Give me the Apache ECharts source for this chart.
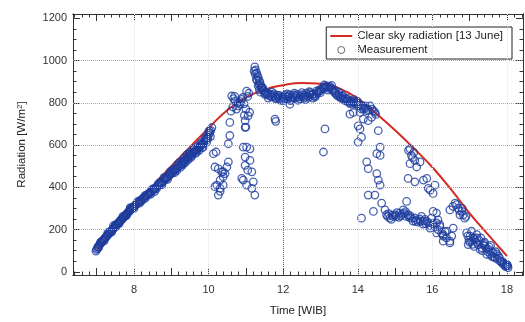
<!DOCTYPE html>
<html>
<head>
<meta charset="utf-8">
<script src="https://cdn.jsdelivr.net/npm/echarts@6/dist/echarts.min.js"></script>
<style>
  html, body { margin: 0; padding: 0; background: #fff; }
  #chart { width: 525px; height: 322px; }
</style>
</head>
<body>
<div id="chart"></div>
<script>
// axis ranges and tick labels
const xLabels = [8, 10, 12, 14, 16, 18];
const yLabels = [0, 200, 400, 600, 800, 1000, 1200];
const xGrid = [8, 10, 14, 16, 18];
const yGrid = [200, 400, 600, 800, 1000];

// clear sky curve (13 June)
const clearSkyTime = [7.0, 7.5, 8.0, 8.5, 9.0, 9.5, 10.0, 10.5, 11.0, 11.5, 12.0, 12.5, 13.0, 13.5, 14.0, 14.5, 15.0, 15.5, 16.0, 16.5, 17.0, 17.5, 18.0];
const clearSkyValue = [105, 205, 305, 405, 500, 590, 680, 765, 825, 862, 883, 893, 890, 868, 820, 748, 670, 585, 495, 390, 277, 175, 75];

const sunriseBand = [
  [6.98,98],[7.00,106],[7.02,110],[7.03,118],[7.05,121],[7.07,127],[7.09,130],[7.11,137],[7.13,139],[7.15,146],
  [7.17,147],[7.19,153],[7.21,157],[7.23,162],[7.25,164],[7.27,171],[7.29,172],[7.31,179],[7.33,181],[7.35,187],
  [7.37,189],[7.39,195],[7.41,196],[7.43,202],[7.45,205],[7.47,210],[7.49,211],[7.51,218],[7.53,219],[7.55,226],
  [7.57,228],[7.59,234],[7.61,235],[7.63,242],[7.65,243],[7.67,250],[7.69,251],[7.71,257],[7.73,259],[7.75,264],
  [7.77,267],[7.79,272],[7.81,274],[7.83,280],[7.85,281],[7.87,288],[7.89,289],[7.91,296],[7.93,296],[7.95,303],
  [7.97,304],[7.99,309],[8.02,312],[8.05,319],[8.08,321],[8.11,329],[8.14,331],[8.17,338],[8.20,340],[8.23,347],
  [8.26,349],[8.29,356],[8.32,357],[8.35,365],[8.38,367],[8.41,373],[8.44,377],[8.47,382],[8.50,385],[8.53,391],
  [8.56,395],[8.59,399],[8.62,403],[8.65,409],[8.68,411],[8.71,419],[8.74,420],[8.77,428],[8.80,430],[8.83,437],
  [8.86,441],[8.89,447],[8.92,451],[8.95,459],[8.98,461],[9.01,471],[9.04,468],[9.07,478],[9.10,482],[9.13,489],
  [9.16,492],[9.19,500],[9.22,502],[9.25,509],[9.28,511],[9.31,521],[9.34,523],[9.37,531],[9.40,533],[9.43,541],
  [9.46,543],[9.49,551],[9.52,552],[9.55,559],[9.58,562],[9.61,568],[9.64,571],[9.67,577],[9.70,580],[9.73,586],
  [9.76,591],[9.79,597],[9.82,601],[9.85,607],[9.88,614],[9.91,621],[9.94,630],[9.97,637],[10.00,647],[10.03,657],
  [10.06,669],[10.09,683]
];
const sunriseSpread = [
  [7.45,218],[7.90,300],[8.15,325],[8.30,348],[8.45,368],[8.60,392],[8.70,425],[8.80,446],[8.90,438],[8.95,470],
  [9.00,478],[9.10,470],[9.15,505],[9.20,515],[9.25,495],[9.30,505],[9.35,540],[9.38,518],[9.42,555],[9.45,530],
  [9.50,565],[9.55,548],[9.60,580],[9.65,560],[9.70,592],[9.75,575],[9.80,610],[9.85,590],[9.90,632],[9.95,615],
  [10.00,662],[10.05,640],
  [7.05,114],[7.10,140],[7.20,146],[7.30,186],[7.40,188],[7.50,222],[7.60,228],[7.70,262],[7.80,266],[7.90,304],
  [8.00,300],[8.10,333],[8.20,334],[8.30,362],[8.40,366],[8.50,392],[8.55,380],[8.65,416],[8.75,412],[8.85,448],
  [9.05,485],[9.15,480],[9.28,522],[9.33,512],[9.48,558],[9.52,540],[9.62,582],[9.68,566],[9.78,603],[9.83,588],
  [9.92,628],[9.98,630],[10.02,668]
];
const morningScatter = [
  [10.13,559],[10.17,496],[10.20,567],[10.22,410],[10.26,488],[10.35,473],[10.44,465],[10.49,496],[10.53,520],
  [10.39,450],[10.31,434],[10.17,403],[10.31,395],[10.26,363],[10.39,410],[10.31,381],[10.39,474],[10.57,707],
  [10.57,645],[10.53,606],[10.62,832],[10.71,808],[10.80,785],[10.75,770],[10.89,816],[10.84,793],[11.02,855],
  [10.98,715],[10.98,684],[10.93,590],[10.98,543],[10.98,504],[10.89,442],[11.11,582],[11.16,473],[11.20,426],
  [11.24,363],[11.11,527],[11.02,410],[11.16,395],[10.67,820],[10.70,830],[10.78,800],[10.86,805],[10.92,825],
  [11.05,830],[11.08,845],[10.95,795],[11.00,770],[11.10,755],[10.96,740],[10.65,780],[10.60,760],[11.06,738],
  [11.00,685],[10.93,434],[11.05,481],[11.02,590]
];
const middayPeak = [
  [11.22,950],[11.24,970],[11.25,935],[11.26,955],[11.28,912],[11.29,941],[11.31,928],[11.33,919],[11.35,888],
  [11.36,905],[11.38,895],[11.40,880],[11.42,872],[11.46,860],[11.51,840]
];
const middayPlateau = [
  [11.30,905],[11.33,880],[11.36,862],[11.39,850],[11.42,868],[11.45,872],[11.48,858],[11.51,845],[11.54,850],
  [11.57,838],[11.60,845],[11.63,832],[11.66,840],[11.69,828],[11.72,835],[11.75,842],[11.78,830],[11.81,822],
  [11.84,836],[11.87,828],[11.90,818],[11.93,812],[11.96,825],[11.99,830],[12.02,820],[12.05,835],[12.08,828],
  [12.11,816],[12.14,830],[12.17,838],[12.20,826],[12.23,815],[12.26,828],[12.29,836],[12.32,822],[12.35,832],
  [12.38,840],[12.41,826],[12.44,818],[12.47,830],[12.50,838],[12.53,828],[12.56,822],[12.59,836],[12.62,845],
  [12.65,832],[12.68,826],[12.71,840],[12.74,848],[12.77,836],[12.80,842],[12.83,832],[12.86,828],[12.89,840],
  [12.92,848],[12.95,855],[12.98,862],[13.01,858],[13.04,866],[13.07,872],[13.10,868],[13.13,876],[13.16,880],
  [13.19,874],[13.22,868],[13.25,878],[13.28,872],[13.31,864],[13.34,858],[13.37,850],[13.40,846],[13.43,838],
  [13.46,832],[13.49,840],[13.52,828],[13.55,822],[13.58,830],[13.61,818],[13.64,812],[13.67,820],[13.70,808],
  [13.73,815],[13.76,802],[13.79,810],[13.82,805],[13.85,798],[13.88,808],[13.91,800],[13.94,795],[13.97,805],
  [14.00,792],[14.04,784],[14.08,790],[14.12,778],[14.16,770],[14.20,776],[14.24,762],[14.28,768],[14.33,785],
  [14.38,770],[14.42,762],[14.46,755],[14.48,745],
  [11.60,822],[11.70,850],[11.80,818],[11.90,835],[12.00,810],[12.10,842],[12.20,810],[12.30,845],[12.40,812],
  [12.50,848],[12.60,815],[12.70,852],[12.80,822],[12.90,856],[13.00,848],[13.10,884],[13.20,860],[13.30,882],
  [13.40,858],[13.50,850],[13.60,834],[13.70,822],[13.80,795],[13.90,815],[14.00,805],[14.10,770],[14.20,785]
];
const middayScatter = [
  [11.78,723],[11.80,712],[12.18,793],[13.12,676],[13.08,567]
];
const afternoonScatter = [
  [14.37,731],[14.28,715],[14.15,723],[14.06,754],[13.88,754],[13.79,746],[14.01,691],[14.06,676],[14.10,637],
  [14.01,614],[14.55,668],[14.60,590],[14.51,559],[14.60,551],[14.24,520],[14.28,488],[14.51,465],[14.55,434],
  [14.60,410],[14.28,363],[14.46,363],[14.64,325],[14.42,286],[14.10,254],
  [15.40,582],[15.44,551],[15.53,527],[15.40,512],[15.58,496],[15.47,540],[15.50,565],[15.36,575],[15.67,520],
  [15.35,442],[15.53,426],[15.85,442],[15.89,395],[16.07,410],[15.31,333],[15.76,434],[15.94,387],[16.02,371],
  [16.47,293],[16.61,325],[16.69,301],[16.79,286],[16.83,270],[16.87,254],[16.74,270],[16.55,310],[16.65,318],
  [16.72,290],[16.80,300],[16.90,262]
];
const afternoonBand = [
  [14.73,293],[14.77,270],[14.80,262],[14.86,254],[14.90,248],[14.95,262],[15.00,270],[15.05,280],[15.10,258],
  [15.13,278],[15.18,272],[15.22,293],[15.28,285],[15.30,262],[15.35,270],[15.40,266],[15.44,254],[15.48,240],
  [15.52,255],[15.58,246],[15.62,235],[15.66,250],[15.71,262],[15.75,226],[15.76,240],[15.80,248],[15.85,239],
  [15.90,232],[15.94,207],[15.95,218],[15.98,254],[16.02,228],[16.02,286],[16.07,212],[16.11,231],[16.11,184],
  [16.11,278],[16.15,200],[16.15,246],[16.20,215],[16.20,223],[16.25,184],[16.29,176],[16.29,145],[16.29,169],
  [16.34,190],[16.38,161],[16.38,192],[16.47,137],[16.47,145],[16.52,169],[16.56,207],
  [14.83,275],[14.92,268],[15.03,262],[15.15,265],[15.25,276],[15.38,258],[15.55,238],[15.68,240],[15.82,228]
];
const sunsetBand = [
  [16.92,184],[16.96,129],[16.98,150],[17.01,169],[17.05,145],[17.05,192],[17.08,130],[17.10,160],[17.14,153],
  [17.18,140],[17.19,176],[17.23,129],[17.25,150],[17.28,106],[17.30,160],[17.32,114],[17.36,128],[17.40,140],
  [17.41,122],[17.45,110],[17.46,82],[17.50,106],[17.52,118],[17.55,82],[17.58,96],[17.60,72],[17.63,90],
  [17.68,67],[17.72,85],[17.74,60],[17.77,75],[17.81,52],[17.85,45],[17.90,36],[17.93,40],[17.96,25],
  [17.99,28],[18.00,35],[18.03,20],
  [16.95,170],[17.00,140],[17.12,120],[17.20,160],[17.34,100],[17.38,135],[17.48,95],[17.56,125],[17.65,70],
  [17.70,95],[17.80,65],[17.88,48],[17.95,32],[18.02,28]
];

const X_MIN = 6.365, X_MAX = 18.43, Y_MIN = -15, Y_MAX = 1220;
const FONT = "'Liberation Sans', Arial, sans-serif";

const hourTicks = [];
for (let h = 7; h <= 18; h++) hourTicks.push(h);
const xMinor = [];
for (let i = 32; i <= 92; i++) xMinor.push(+(i * 0.2).toFixed(1));
const yMinor = [];
for (let v = 0; v <= 1200; v += 50) yMinor.push(v);

const measurement = [].concat(sunriseBand, sunriseSpread, morningScatter, middayPeak,
  middayPlateau, middayScatter, afternoonScatter, afternoonBand, sunsetBand);

const axisLine = { show: true, onZero: false, lineStyle: { color: '#333', width: 1 } };
const tickStyle = { color: '#333', width: 1 };

function xAx (position, ticks, len, extra) {
  return Object.assign({
    type: 'value', min: X_MIN, max: X_MAX, position,
    axisLine, splitLine: { show: false },
    axisTick: { show: true, inside: true, length: len, customValues: ticks, lineStyle: tickStyle },
    axisLabel: { show: false },
  }, extra || {});
}
function yAx (position, ticks, len, extra) {
  return Object.assign({
    type: 'value', min: Y_MIN, max: Y_MAX, position,
    axisLine, splitLine: { show: false },
    axisTick: { show: true, inside: true, length: len, customValues: ticks, lineStyle: tickStyle },
    axisLabel: { show: false },
  }, extra || {});
}

const chart = echarts.init(document.getElementById('chart'));

chart.setOption({
  animation: false,
  backgroundColor: '#fff',
  textStyle: { fontFamily: FONT },
  grid: { left: 73, right: 2, top: 14, bottom: 45 },
  legend: {
    right: 13, top: 27,
    orient: 'vertical',
    backgroundColor: '#fff',
    borderColor: '#222', borderWidth: 1, borderRadius: 0,
    padding: [3, 9, 3, 4],
    itemGap: 2, itemWidth: 22, itemHeight: 7,
    textStyle: { fontFamily: FONT, fontSize: 11.5, color: '#222', overflow: 'none' },
    data: [
      { name: 'Clear sky radiation [13 June]', icon: 'path://M0,0H22V2H0Z', itemStyle: { color: '#d42a24' } },
      { name: 'Measurement', icon: 'circle', itemStyle: { color: 'rgba(0,0,0,0)', borderColor: '#444', borderWidth: 1 } }
    ],
  },
  xAxis: [
    xAx('bottom', hourTicks, 7, {
      name: 'Time [WIB]', nameLocation: 'middle', nameGap: 30,
      nameTextStyle: { fontFamily: FONT, fontSize: 11.5, color: '#222' },
      axisLabel: { show: true, customValues: xLabels, margin: 9, fontFamily: FONT, fontSize: 11, color: '#333', formatter: v => String(v) },
    }),
    xAx('bottom', xMinor, 3.5),
    xAx('top', hourTicks, 7),
    xAx('top', xMinor, 3.5),
  ],
  yAxis: [
    yAx('left', yLabels, 7, {
      name: 'Radiation [W/m{s|2}]', nameLocation: 'middle', nameGap: 45,
      nameTextStyle: {
        fontFamily: FONT, fontSize: 11.5, color: '#222',
        rich: { s: { fontFamily: FONT, fontSize: 8, color: '#222', verticalAlign: 'top', lineHeight: 8, padding: [0, 0, 6, 0] } }
      },
      axisLabel: { show: true, customValues: yLabels, margin: 6, fontFamily: FONT, fontSize: 11, color: '#333', formatter: v => String(v) },
    }),
    yAx('left', yMinor, 3.5),
    yAx('right', yLabels, 7),
    yAx('right', yMinor, 3.5),
  ],
  series: [
    {
      name: 'Clear sky radiation [13 June]',
      type: 'line',
      smooth: true,
      symbol: 'none',
      z: 2,
      data: clearSkyTime.map((t, i) => [t, clearSkyValue[i]]),
      lineStyle: { color: '#d42a24', width: 2 },
      itemStyle: { color: '#d42a24' },
      markLine: {
        silent: true,
        symbol: 'none',
        label: { show: false },
        data: [].concat(
          yGrid.map(v => ({ yAxis: v, lineStyle: { color: '#aaa', type: 'dotted', width: 1 } })),
          xGrid.map(v => ({ xAxis: v, lineStyle: { color: '#e2e2e2', type: 'dotted', width: 1 } })),
          [{ xAxis: 12, lineStyle: { color: '#666', type: 'dotted', width: 1 } }]
        ),
      },
    },
    {
      name: 'Measurement',
      type: 'scatter',
      z: 3,
      symbol: 'circle',
      symbolSize: 7.5,
      data: measurement,
      itemStyle: { color: 'rgba(0,0,0,0)', borderColor: '#1d3c9e', borderWidth: 1.3 },
    },
  ],
});
</script>
</body>
</html>
